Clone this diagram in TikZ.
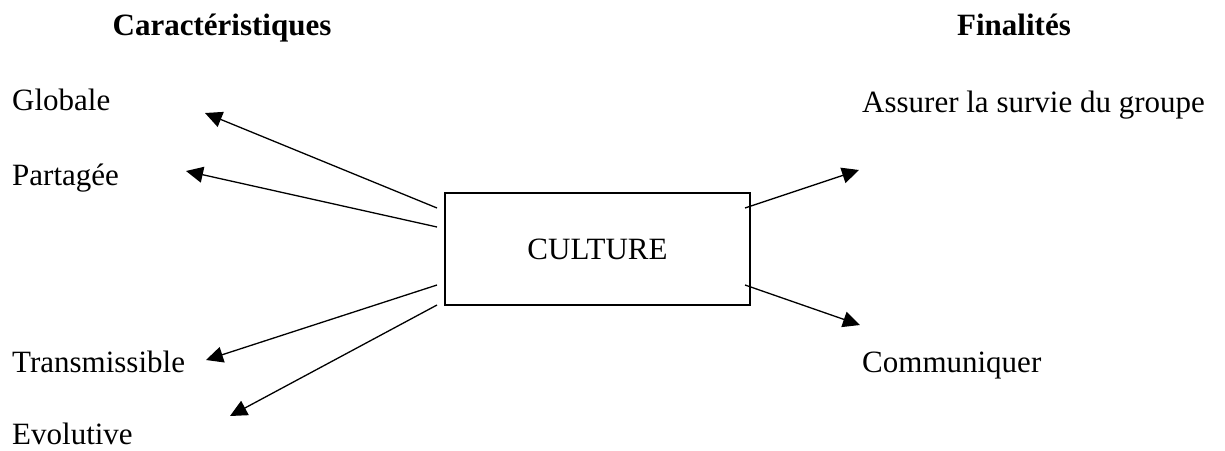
\documentclass[tikz,border=0pt]{standalone}
\usepackage{fontspec}
\setmainfont{Liberation Serif}
\usetikzlibrary{arrows.meta}
\begin{document}
\begin{tikzpicture}[x=1pt,y=-1pt,
  lbl/.style={anchor=base west,inner sep=0pt,font=\fontsize{31}{36}\selectfont},
  hdr/.style={anchor=base,inner sep=0pt,font=\fontsize{31}{36}\selectfont\bfseries},
  conn/.style={line width=1.3pt,-{Triangle[length=17pt,width=16pt]}},
  box/.style={draw,line width=1.4pt,minimum width=305pt,minimum height=112pt,inner sep=0pt,font=\fontsize{31}{36}\selectfont}]
\useasboundingbox (0,0) rectangle (1225,450);
\node[hdr] (h1) at (222,35) {Caractéristiques};
\node[hdr] (h2) at (1014,35) {Finalités};
\node[lbl] (glob) at (12,110) {Globale};
\node[lbl] (part) at (12,185) {Partagée};
\node[lbl] (trans) at (12,372) {Transmissible};
\node[lbl] (evol) at (12,444) {Evolutive};
\node[lbl] (surv) at (862,112) {Assurer la survie du groupe};
\node[lbl] (comm) at (862,372) {Communiquer};
\node[box] (cult) at (597.5,249) {CULTURE};
% arrow start and tip points
\coordinate (s1) at (437,208);
\coordinate (s2) at (437,227);
\coordinate (s3) at (437,285);
\coordinate (s4) at (437,305);
\coordinate (s5) at (745,208);
\coordinate (s6) at (745,285);
\coordinate (t1) at (205,113);
\coordinate (t2) at (186,171);
\coordinate (t3) at (206,360);
\coordinate (t4) at (230,416);
\coordinate (t5) at (859,170);
\coordinate (t6) at (860,325);
\draw[conn] (s1) -- (t1);
\draw[conn] (s2) -- (t2);
\draw[conn] (s3) -- (t3);
\draw[conn] (s4) -- (t4);
\draw[conn] (s5) -- (t5);
\draw[conn] (s6) -- (t6);
\end{tikzpicture}
\end{document}
